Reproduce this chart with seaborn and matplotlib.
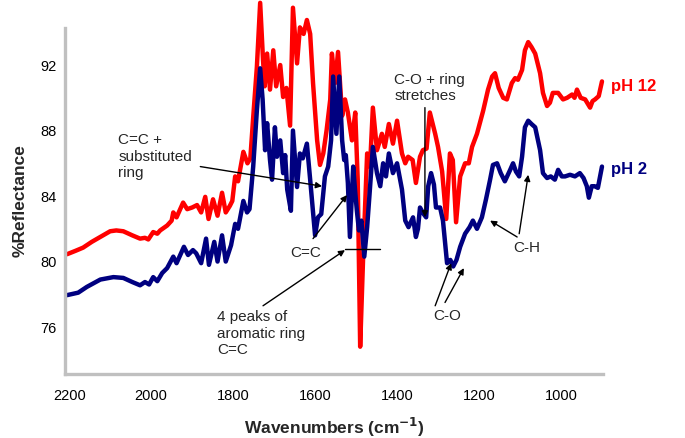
import numpy as np
import pandas as pd
import seaborn as sns
from matplotlib import pyplot as plt

# spectra (wavenumber in cm-1, %reflectance)
wn_ph12 = [2205, 2185, 2166, 2145, 2124, 2100, 2085, 2068, 2046, 2027, 2015, 2007,
           1995, 1985, 1978, 1961, 1950, 1946, 1938, 1922, 1912, 1900, 1888, 1878,
           1868, 1860, 1849, 1838, 1827, 1818, 1808, 1802, 1795, 1788, 1775, 1765,
           1758, 1751, 1742, 1734, 1727, 1723, 1717, 1710, 1702, 1695, 1685, 1678,
           1670, 1661, 1654, 1644, 1637, 1628, 1620, 1612, 1605, 1595, 1588, 1580,
           1572, 1563, 1559, 1551, 1544, 1534, 1527, 1520, 1510, 1502, 1496, 1490,
           1483, 1473, 1466, 1459, 1449, 1437, 1430, 1420, 1410, 1400, 1388, 1380,
           1373, 1362, 1354, 1344, 1337, 1328, 1320, 1307, 1300, 1290, 1280, 1271,
           1264, 1256, 1246, 1234, 1225, 1217, 1205, 1190, 1178, 1168, 1161, 1152,
           1141, 1132, 1120, 1112, 1105, 1095, 1088, 1080, 1072, 1063, 1051, 1044,
           1034, 1027, 1020, 1007, 995, 985, 973, 967, 961, 952, 941, 929,
           923, 917, 908, 900]
refl_ph12 = [80.45, 80.65, 80.85, 81.2, 81.5, 81.85, 81.9, 81.85, 81.6, 81.4, 81.45, 81.35,
             81.8, 81.7, 81.9, 82.2, 82.5, 83.0, 82.7, 83.6, 83.2, 83.3, 83.45, 83.0,
             83.95, 82.6, 83.8, 82.8, 84.2, 83.0, 83.4, 83.7, 85.2, 84.9, 86.7, 86.0,
             86.3, 88.8, 91.9, 95.8, 92.3, 90.7, 92.7, 90.5, 92.9, 90.7, 92.0, 90.05,
             90.6, 88.3, 95.5, 92.1, 94.3, 93.9, 94.75, 93.9, 90.9, 87.4, 85.9, 86.6,
             88.0, 89.9, 92.7, 90.9, 92.8, 88.9, 89.9, 89.1, 87.4, 89.1, 85.0, 74.8,
             80.1, 86.6, 85.8, 89.4, 86.8, 87.8, 87.0, 88.4, 87.2, 88.6, 86.6, 86.0,
             86.4, 86.2, 84.8, 86.4, 86.8, 86.9, 89.1, 87.8, 87.0, 85.5, 82.6, 86.6,
             86.2, 82.4, 85.2, 86.0, 86.0, 87.0, 87.8, 89.2, 90.5, 91.3, 91.5, 90.6,
             90.0, 89.9, 90.9, 91.2, 91.1, 91.7, 92.9, 93.4, 93.1, 92.7, 91.5, 90.3,
             89.5, 89.7, 90.3, 90.3, 89.9, 90.0, 90.2, 90.0, 90.5, 90.0, 89.9, 89.4,
             89.8, 89.9, 90.1, 91.0]

wn_ph2 = [2205, 2178, 2157, 2124, 2092, 2068, 2046, 2027, 2015, 2005, 1995, 1985,
          1973, 1961, 1946, 1938, 1920, 1910, 1898, 1890, 1878, 1866, 1859, 1846,
          1838, 1827, 1818, 1805, 1795, 1788, 1775, 1766, 1760, 1751, 1742, 1734,
          1728, 1722, 1717, 1710, 1705, 1698, 1693, 1685, 1678, 1673, 1668, 1659,
          1654, 1644, 1637, 1630, 1620, 1612, 1600, 1593, 1585, 1576, 1568, 1561,
          1556, 1548, 1541, 1534, 1529, 1525, 1520, 1515, 1507, 1502, 1498, 1493,
          1487, 1480, 1473, 1466, 1459, 1449, 1441, 1434, 1427, 1420, 1410, 1400,
          1388, 1380, 1372, 1361, 1354, 1349, 1344, 1335, 1329, 1324, 1317, 1310,
          1305, 1295, 1288, 1278, 1270, 1263, 1255, 1246, 1234, 1223, 1215, 1205,
          1193, 1183, 1173, 1166, 1156, 1147, 1137, 1124, 1117, 1110, 1102, 1095,
          1088, 1080, 1072, 1063, 1051, 1044, 1034, 1025, 1015, 1007, 998, 990,
          978, 966, 954, 945, 937, 932, 925, 918, 910, 900]
refl_ph2 = [77.95, 78.1, 78.45, 78.9, 79.05, 79.0, 78.75, 78.55, 78.75, 78.6, 79.05, 78.8,
            79.3, 79.6, 80.3, 79.9, 80.9, 80.4, 80.7, 80.5, 79.9, 81.4, 79.8, 81.2,
            80.0, 81.6, 80.0, 81.0, 82.3, 82.0, 83.7, 83.0, 83.2, 85.8, 89.25, 91.8,
            89.9, 86.8, 88.45, 86.2, 85.0, 88.2, 86.4, 87.4, 85.4, 86.5, 84.4, 83.1,
            88.0, 84.55, 86.6, 86.3, 87.2, 85.0, 81.6, 82.7, 82.9, 85.2, 85.8, 87.4,
            91.3, 87.8, 91.3, 87.4, 86.2, 86.5, 84.8, 81.5, 85.8, 84.2, 83.1, 81.9,
            82.5, 80.3, 82.1, 84.5, 87.0, 85.4, 84.6, 86.0, 85.2, 86.6, 85.4, 86.0,
            84.4, 82.5, 82.1, 82.7, 81.5, 82.0, 83.3, 82.9, 82.7, 84.6, 85.4, 84.7,
            83.3, 83.3, 82.5, 79.9, 80.1, 79.7, 80.1, 80.9, 81.7, 82.1, 82.5, 82.0,
            82.7, 83.8, 85.0, 85.9, 86.0, 85.4, 84.9, 85.6, 86.0, 85.5, 85.2, 86.4,
            88.2, 88.6, 88.4, 88.2, 86.8, 85.4, 85.1, 85.2, 85.0, 85.6, 85.2, 85.2,
            85.3, 85.2, 85.4, 85.1, 84.6, 83.9, 84.6, 84.6, 84.5, 85.8]

x_ticks = [2200, 2000, 1800, 1600, 1400, 1200, 1000]
y_ticks = [76, 80, 84, 88, 92]

red = '#ff0000'
navy = '#000080'

df = pd.concat([
    pd.DataFrame({'wn': wn_ph12, 'refl': refl_ph12, 'sample': 'pH 12'}),
    pd.DataFrame({'wn': wn_ph2, 'refl': refl_ph2, 'sample': 'pH 2'}),
])

sns.set_theme(style='white')
plt.rcParams['font.family'] = ['Liberation Sans', 'DejaVu Sans']

fig = plt.figure(figsize=(6.85, 4.38), dpi=100)
ax = fig.add_axes([0.095, 0.146, 0.785, 0.790])

sns.lineplot(data=df, x='wn', y='refl', hue='sample', palette={'pH 12': red, 'pH 2': navy},
             estimator=None, sort=False, linewidth=3.2, legend=False, ax=ax)
for line in ax.lines:
    line.set_clip_on(False)
    line.set_solid_joinstyle('round')

ax.set_xlim(2210, 898)
ax.set_ylim(73.13, 94.26)
ax.set_xticks(x_ticks)
ax.set_yticks(y_ticks)
ax.tick_params(axis='both', labelsize=10.5, colors='black', length=3, width=1.5,
               direction='out')
ax.tick_params(axis='x', pad=8)
ax.tick_params(axis='y', pad=3)
for t in ax.xaxis.get_ticklines() + ax.yaxis.get_ticklines():
    t.set_color('#333333')

for s in ['top', 'right']:
    ax.spines[s].set_visible(False)
for s in ['left', 'bottom']:
    ax.spines[s].set_color('#c0c0c0')
    ax.spines[s].set_linewidth(2.4)

ax.set_xlabel('Wavenumbers (cm$^{\\mathbf{-1}}$)', fontsize=12.5, fontweight='bold', labelpad=9)
ax.set_ylabel('%Reflectance', fontsize=12.5, fontweight='bold', labelpad=9)

# series labels at the right end
ax.text(878, 90.7, 'pH 12', color=red, fontsize=12, fontweight='bold', ha='left', va='center')
ax.text(878, 85.65, 'pH 2', color=navy, fontsize=12, fontweight='bold', ha='left', va='center')

arrow = dict(arrowstyle='-|>', color='black', lw=1, mutation_scale=9, shrinkA=0, shrinkB=0)
fs = 11

ax.text(2080, 86.4, 'C=C +\nsubstituted\nring', fontsize=fs, ha='left', va='center', linespacing=1.25)
ax.annotate('', xy=(1583, 84.6), xytext=(1880, 85.8), arrowprops=arrow)

ax.text(1622, 80.5, 'C=C', fontsize=fs, ha='center', va='center')
ax.annotate('', xy=(1522, 84.06), xytext=(1605, 81.4), arrowprops=arrow)

ax.text(1839, 75.6, '4 peaks of\naromatic ring\nC=C', fontsize=fs, ha='left', va='center', linespacing=1.2)
ax.annotate('', xy=(1527, 80.7), xytext=(1727, 77.3), arrowprops=arrow)
ax.plot([1527, 1441], [80.75, 80.75], color='black', lw=1)

ax.text(1407, 90.6, 'C-O + ring\nstretches', fontsize=fs, ha='left', va='center', linespacing=1.1)
ax.annotate('', xy=(1332, 82.7), xytext=(1332, 89.4), arrowprops=arrow)

ax.text(1278, 76.7, 'C-O', fontsize=fs, ha='center', va='center')
ax.annotate('', xy=(1268, 79.9), xytext=(1307, 77.3), arrowprops=arrow)
ax.annotate('', xy=(1237, 79.6), xytext=(1283, 77.5), arrowprops=arrow)

ax.text(1083, 80.8, 'C-H', fontsize=fs, ha='center', va='center')
ax.annotate('', xy=(1173, 82.5), xytext=(1107, 81.5), arrowprops=arrow)
ax.annotate('', xy=(1080, 85.3), xytext=(1102, 81.7), arrowprops=arrow)

fig.savefig('out.png', dpi=100)
